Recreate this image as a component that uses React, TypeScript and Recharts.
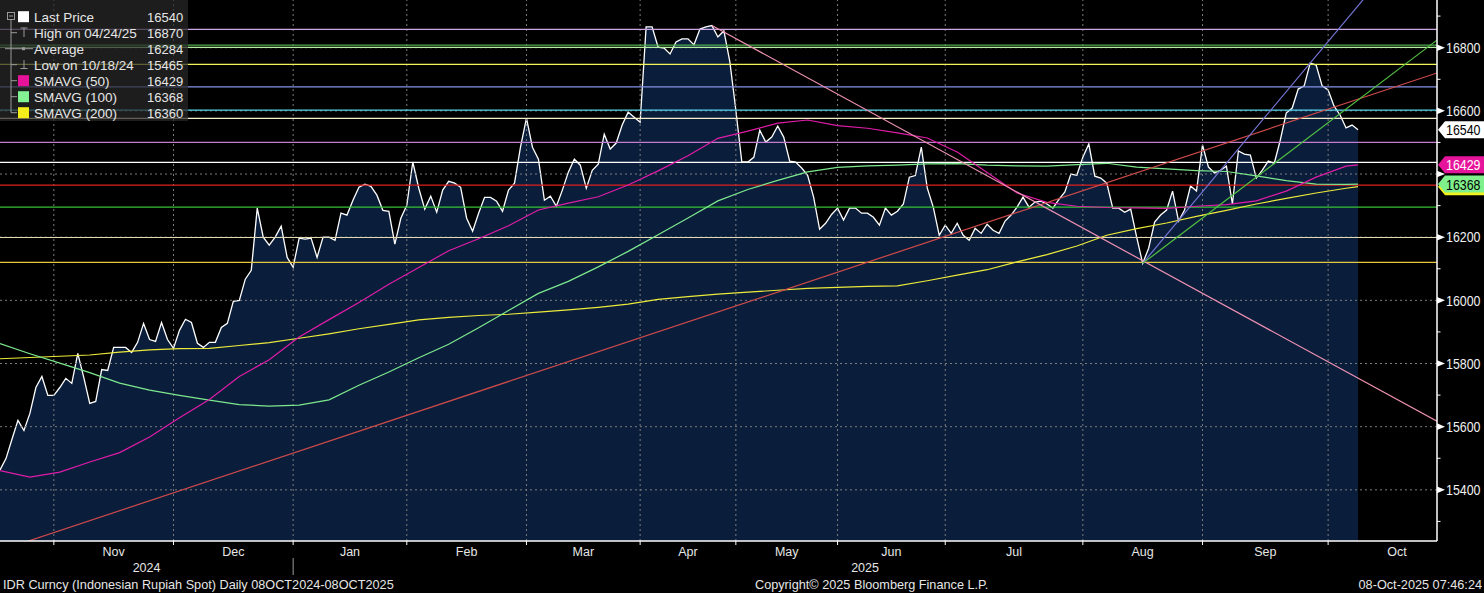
import React from 'react';
import { ComposedChart, Area, Line, XAxis, YAxis, ReferenceLine, ReferenceDot } from 'recharts';

const CHART_W = 1484;
const CHART_H = 593;
const AXIS_W = 47;
const XAXIS_H = 52;

const X_MAX = 240.2;
const Y_DOMAIN = [15238, 16951];

// Daily last price, one value per trading day (index 0 = 18 Oct 2024)
const prices = [
  15463, 15499, 15560, 15620, 15588, 15642, 15724, 15759, 15699, 15699,
  15724, 15753, 15737, 15832, 15756, 15674, 15680, 15781, 15778, 15851,
  15851, 15851, 15835, 15867, 15927, 15876, 15870, 15930, 15876, 15848,
  15905, 15940, 15930, 15864, 15851, 15867, 15867, 15914, 15927, 15997,
  16000, 16067, 16095, 16292, 16200, 16175, 16200, 16235, 16136, 16105,
  16197, 16194, 16197, 16136, 16200, 16200, 16190, 16276, 16270, 16317,
  16358, 16368, 16361, 16333, 16285, 16282, 16178, 16260, 16301, 16438,
  16355, 16289, 16330, 16279, 16349, 16377, 16371, 16358, 16260, 16219,
  16276, 16326, 16326, 16314, 16282, 16349, 16371, 16485, 16577, 16485,
  16447, 16317, 16330, 16298, 16349, 16406, 16447, 16428, 16355, 16412,
  16431, 16526, 16479, 16498, 16555, 16596, 16580, 16564, 16866, 16866,
  16802, 16799, 16780, 16818, 16828, 16828, 16809, 16859, 16866, 16870,
  16834, 16853, 16755, 16602, 16438, 16438, 16453, 16539, 16501, 16517,
  16552, 16517, 16441, 16438, 16419, 16396, 16327, 16225, 16244, 16272,
  16292, 16254, 16292, 16292, 16276, 16276, 16263, 16238, 16292, 16270,
  16282, 16305, 16390, 16395, 16485, 16355, 16295, 16206, 16238, 16212,
  16244, 16206, 16190, 16228, 16212, 16241, 16222, 16212, 16251, 16270,
  16295, 16327, 16295, 16311, 16314, 16305, 16292, 16320, 16343, 16400,
  16396, 16453, 16495, 16393, 16387, 16371, 16292, 16292, 16279, 16289,
  16200, 16117, 16165, 16248, 16270, 16286, 16346, 16251, 16286, 16362,
  16346, 16492, 16422, 16403, 16412, 16425, 16305, 16473, 16463, 16460,
  16387, 16412, 16441, 16434, 16507, 16593, 16609, 16669, 16679, 16751,
  16745, 16679, 16666, 16615, 16587, 16546, 16555, 16540,
];

// Moving averages read every 5 trading days
const smaDays = [
  0, 5, 10, 15, 20, 25, 30, 35, 40, 45, 50, 55, 60, 65, 70, 75, 80, 85, 90, 95,
  100, 105, 110, 115, 120, 125, 130, 135, 140, 145, 150, 155, 160, 165, 170, 175,
  180, 185, 190, 195, 200, 205, 210, 215, 220, 225, 227,
];
const sma50 = [
  15461, 15440, 15456, 15488, 15518, 15567, 15628, 15686, 15759, 15812,
  15884, 15939, 15993, 16051, 16104, 16157, 16195, 16236, 16286, 16308,
  16328, 16365, 16410, 16458, 16513, 16536, 16561, 16571, 16553, 16545,
  16530, 16514, 16470, 16405, 16340, 16310, 16298, 16294, 16293, 16291,
  16298, 16303, 16315, 16346, 16390, 16425, 16429,
];
const sma100 = [
  15863, 15831, 15801, 15771, 15738, 15716, 15699, 15684, 15670, 15665,
  15668, 15685, 15731, 15773, 15818, 15861, 15913, 15968, 16022, 16060,
  16106, 16155, 16208, 16261, 16315, 16351, 16380, 16407, 16421, 16426,
  16428, 16432, 16433, 16428, 16426, 16425, 16430, 16434, 16422, 16416,
  16411, 16408, 16394, 16379, 16368, 16367, 16368,
];
const sma200 = [
  15815, 15819, 15823, 15827, 15836, 15843, 15847, 15848, 15857, 15866,
  15880, 15894, 15910, 15924, 15938, 15946, 15952, 15956, 15963, 15970,
  15978, 15988, 16003, 16012, 16020, 16026, 16032, 16038, 16041, 16044,
  16046, 16062, 16080, 16097, 16122, 16145, 16172, 16206, 16227, 16245,
  16266, 16285, 16305, 16323, 16340, 16355, 16360,
];

const monthNames = ['Nov', 'Dec', 'Jan', 'Feb', 'Mar', 'Apr', 'May', 'Jun', 'Jul', 'Aug', 'Sep', 'Oct'];
// trading-day index of each month's first session (last entry = Nov 2025)
const monthStarts = [9, 29, 49, 68, 88, 107, 123, 140, 158, 181, 201, 222, 245];
const yearNames = ['2024', '2025'];
const yearBoundary = 49;

const yMajorTicks = [15400, 15600, 15800, 16000, 16200, 16400, 16600, 16800];
const yMinorTicks = [15300, 15500, 15700, 15900, 16100, 16300, 16500, 16700, 16900];
// axis labels hidden behind the price tags
const yHiddenLabels = [16400];

// horizontal levels drawn on the chart
const levelValues = [16858, 16808, 16801, 16747, 16676, 16602, 16576, 16500, 16437, 16365, 16295, 16199, 16120];
const levelColors = [
  '#cda6e6', '#4fae4f', '#b4f0a0', '#f2f25a', '#8492e4', '#54d8f2', '#f6f0cc',
  '#c47ccf', '#ffffff', '#e01e1e', '#34c234', '#e2dab2', '#e6c83e',
];

// trend lines (trading-day index, price)
const trendX1 = [0, 119, 191, 191];
const trendY1 = [15208, 16870, 16117, 16117];
const trendX2 = [240.2, 240.2, 232, 240.2];
const trendY2 = [16720, 15617, 17046, 16824];
const trendColors = ['#cf4a4a', '#ee90b2', '#7474d4', '#52c441'];

const legendLabels = ['Last Price', 'High on 04/24/25', 'Average', 'Low on 10/18/24', 'SMAVG (50)', 'SMAVG (100)', 'SMAVG (200)'];
const legendValues = [16540, 16870, 16284, 15465, 16429, 16368, 16360];

const tagValues = [16360, 16368, 16429, 16540];
const tagShowText = [false, true, true, true];
const tagBg = ['#f2f21e', '#80f08c', '#e6149b', '#ffffff'];
const tagFg = ['#000000', '#000000', '#ffffff', '#000000'];

const REG = "'Liberation Sans', Arial, 'DejaVu Sans', sans-serif";
const TXT = '#e6e6e6';

const rows = prices.map((p, i) => {
  const k = smaDays.indexOf(i);
  return {
    i,
    price: p,
    s50: k >= 0 ? sma50[k] : null,
    s100: k >= 0 ? sma100[k] : null,
    s200: k >= 0 ? sma200[k] : null,
  };
});

type TickDef = { v: number; kind: string; text?: string };
const xTickDefs: TickDef[] = [];
monthStarts.forEach((s) => {
  if (s <= X_MAX) xTickDefs.push({ v: s, kind: 'b' });
});
monthNames.forEach((m, k) => {
  xTickDefs.push({ v: (monthStarts[k] + monthStarts[k + 1]) / 2, kind: 'm', text: m });
});
xTickDefs.push({ v: (0 + yearBoundary) / 2, kind: 'y', text: yearNames[0] });
xTickDefs.push({ v: (yearBoundary + X_MAX) / 2, kind: 'y', text: yearNames[1] });
const xTicks = xTickDefs.map((d) => d.v);

const XTick = (props: any) => {
  const { x, y, payload } = props;
  const def = xTickDefs.find((d) => d.v === payload.value);
  if (!def) return null;
  if (def.kind === 'b') {
    return (
      <g>
        <line x1={x} y1={y} x2={x} y2={y + 4} stroke="#ffffff" strokeWidth={1} />
        {def.v === yearBoundary && (
          <line x1={x} y1={y + 17} x2={x} y2={y + 34} stroke="#9a9a9a" strokeWidth={1} />
        )}
      </g>
    );
  }
  if (def.kind === 'm') {
    return (
      <text x={x} y={y + 15} textAnchor="middle" fill={TXT} fontSize={12.5} fontFamily={REG}>
        {def.text}
      </text>
    );
  }
  return (
    <text x={x} y={y + 30.5} textAnchor="middle" fill={TXT} fontSize={12.5} fontFamily={REG}>
      {def.text}
    </text>
  );
};

const yAllTicks = [...yMajorTicks, ...yMinorTicks].sort((a, b) => a - b);

// tall, narrow number label (Bloomberg-style condensed digits)
const NarrowNum = ({ x, y, fill, children }: any) => (
  <g transform={`translate(${x},${y}) scale(1,1.18)`}>
    <text x={0} y={0} fill={fill} fontSize={12.4} fontFamily={REG}>
      {children}
    </text>
  </g>
);

const YTick = (props: any) => {
  const { x, y, payload } = props;
  const v = payload.value;
  if (yMajorTicks.includes(v)) {
    return (
      <g>
        <path d={`M${x},${y - 3.3} L${x + 8},${y} L${x},${y + 3.3} Z`} fill="#ffffff" />
        {!yHiddenLabels.includes(v) && (
          <NarrowNum x={x + 9} y={y + 5.3} fill="#f0f0f0">
            {v}
          </NarrowNum>
        )}
      </g>
    );
  }
  return <line x1={x} y1={y} x2={x + 3.5} y2={y} stroke="#ffffff" strokeWidth={1} />;
};

const makeTag = (k: number) => (props: any) => {
  const { cx, cy } = props;
  if (cx == null || cy == null) return null;
  const x0 = cx + 1;
  const h = 8.5;
  return (
    <g>
      <path
        d={`M${x0},${cy} L${x0 + 7},${cy - h} L${CHART_W},${cy - h} L${CHART_W},${cy + h} L${x0 + 7},${cy + h} Z`}
        fill={tagBg[k]}
      />
      {tagShowText[k] && (
        <NarrowNum x={x0 + 8} y={cy + 5.4} fill={tagFg[k]}>
          {tagValues[k]}
        </NarrowNum>
      )}
    </g>
  );
};

const legendSquareColors: (string | null)[] = ['#ffffff', null, null, null, '#e6129a', '#82f292', '#f4ee1a'];

const LegendBox = () => {
  const rowY = (k: number) => 16.7 + 16 * k;
  const g = '#9a9a9a';
  return (
    <g>
      <rect x={0} y={0} width={188} height={121} fill="rgba(40,40,40,0.72)" />
      <rect x={7.5} y={12.5} width={7} height={7} fill="none" stroke={g} strokeWidth={1} />
      <line x1={9} y1={16} x2={13} y2={16} stroke={g} strokeWidth={1} />
      <line x1={11} y1={19.5} x2={11} y2={rowY(6)} stroke={g} strokeWidth={1} />
      {[1, 3, 4, 5, 6].map((k) => (
        <line key={k} x1={11} y1={rowY(k)} x2={17} y2={rowY(k)} stroke={g} strokeWidth={1} />
      ))}
      {/* High icon */}
      <line x1={20.5} y1={28} x2={27.5} y2={28} stroke={g} strokeWidth={1} />
      <line x1={24} y1={28} x2={24} y2={37} stroke={g} strokeWidth={1} />
      {/* Average icon */}
      <line x1={5} y1={rowY(2)} x2={33} y2={rowY(2)} stroke={g} strokeWidth={1} />
      <rect x={22} y={rowY(2) - 1.5} width={3} height={3} fill={g} />
      {/* Low icon */}
      <line x1={24} y1={60} x2={24} y2={68.5} stroke={g} strokeWidth={1} />
      <line x1={20.5} y1={68.5} x2={27.5} y2={68.5} stroke={g} strokeWidth={1} />
      {legendLabels.map((lab, k) => (
        <g key={lab}>
          {legendSquareColors[k] && (
            <rect x={18} y={rowY(k) - 5.5} width={11} height={11} fill={legendSquareColors[k] as string} />
          )}
          <text x={34} y={rowY(k) + 4.8} fill={TXT} fontSize={13.5} fontFamily={REG}>
            {lab}
          </text>
          <text x={147} y={rowY(k) + 4.8} fill={TXT} fontSize={13} fontFamily={REG}>
            {legendValues[k]}
          </text>
        </g>
      ))}
    </g>
  );
};

export default function App() {
  return (
    <div
      style={{
        position: 'absolute',
        left: 0,
        top: 0,
        width: CHART_W,
        height: CHART_H,
        background: '#000000',
        overflow: 'hidden',
      }}
    >
      <ComposedChart
        width={CHART_W}
        height={CHART_H}
        data={rows}
        margin={{ top: 0, right: 0, bottom: 0, left: 0 }}
      >
        <XAxis
          dataKey="i"
          type="number"
          domain={[0, X_MAX]}
          allowDataOverflow
          ticks={xTicks}
          interval={0}
          tick={(p: any) => <XTick {...p} />}
          tickLine={false}
          tickSize={0}
          tickMargin={0}
          axisLine={{ stroke: '#ffffff', strokeWidth: 1.5 }}
          height={XAXIS_H}
        />
        <YAxis
          orientation="right"
          type="number"
          domain={Y_DOMAIN}
          allowDataOverflow
          ticks={yAllTicks}
          interval={0}
          tick={(p: any) => <YTick {...p} />}
          tickLine={false}
          tickSize={0}
          tickMargin={0}
          axisLine={{ stroke: '#ffffff', strokeWidth: 1.5 }}
          width={AXIS_W}
        />
        <Area
          type="linear"
          dataKey="price"
          stroke="#ffffff"
          strokeWidth={1.3}
          fill="#0a1e3b"
          fillOpacity={1}
          dot={false}
          activeDot={false}
          isAnimationActive={false}
          zIndex={100}
        />
        {monthStarts
          .filter((s) => s <= X_MAX)
          .map((s) => (
            <ReferenceLine
              key={`gx${s}`}
              x={s}
              stroke="#7c7c7c"
              strokeDasharray="2 3"
              strokeWidth={1}
              zIndex={150}
            />
          ))}
        {yMajorTicks.map((v) => (
          <ReferenceLine
            key={`gy${v}`}
            y={v}
            stroke="#7c7c7c"
            strokeDasharray="2 3"
            strokeWidth={1}
            zIndex={150}
          />
        ))}
        {levelValues.map((v, k) => (
          <ReferenceLine key={`lv${v}`} y={v} stroke={levelColors[k]} strokeWidth={1.2} zIndex={160} />
        ))}
        <Line
          type="linear"
          dataKey="s200"
          stroke="#ecea3a"
          strokeWidth={1.2}
          dot={false}
          activeDot={false}
          connectNulls
          isAnimationActive={false}
          zIndex={400}
        />
        <Line
          type="linear"
          dataKey="s100"
          stroke="#7ee88e"
          strokeWidth={1.2}
          dot={false}
          activeDot={false}
          connectNulls
          isAnimationActive={false}
          zIndex={400}
        />
        <Line
          type="linear"
          dataKey="s50"
          stroke="#e01ca8"
          strokeWidth={1.2}
          dot={false}
          activeDot={false}
          connectNulls
          isAnimationActive={false}
          zIndex={400}
        />
        {trendX1.map((x1, k) => (
          <ReferenceLine
            key={`tr${k}`}
            segment={[
              { x: x1, y: trendY1[k] },
              { x: trendX2[k], y: trendY2[k] },
            ]}
            stroke={trendColors[k]}
            strokeWidth={1.2}
            ifOverflow="hidden"
            zIndex={450}
          />
        ))}
        {tagValues.map((v, k) => (
          <ReferenceDot
            key={`tag${k}`}
            x={X_MAX}
            y={v}
            r={1}
            shape={makeTag(k)}
            zIndex={2100}
          />
        ))}
      </ComposedChart>
      <svg
        width={CHART_W}
        height={CHART_H}
        style={{ position: 'absolute', left: 0, top: 0, pointerEvents: 'none' }}
      >
        <LegendBox />
        <text x={3} y={588.5} fill={TXT} fontSize={12.7} fontFamily={REG}>
          IDR Curncy (Indonesian Rupiah Spot) Daily 08OCT2024-08OCT2025
        </text>
        <text x={755} y={588.5} fill={TXT} fontSize={12.7} fontFamily={REG}>
          Copyright© 2025 Bloomberg Finance L.P.
        </text>
        <text x={1482} y={588.5} textAnchor="end" fill={TXT} fontSize={12.7} fontFamily={REG}>
          08-Oct-2025 07:46:24
        </text>
      </svg>
    </div>
  );
}
